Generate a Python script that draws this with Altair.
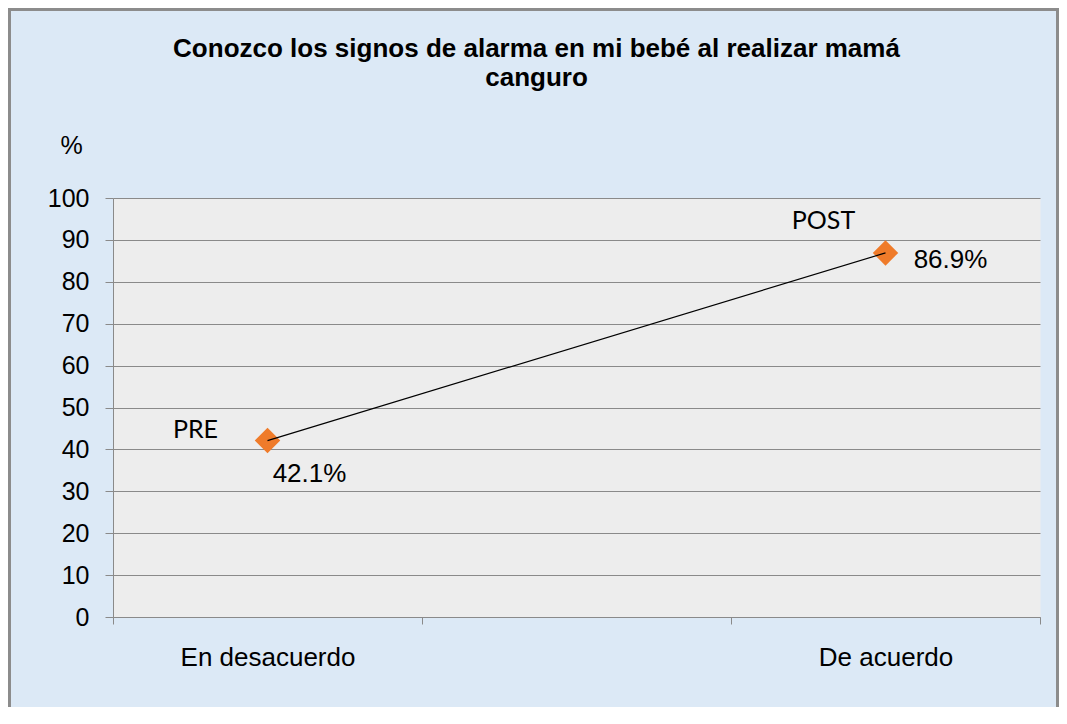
import altair as alt
import pandas as pd

categories = ["En desacuerdo", "De acuerdo"]
values = [42.1, 86.9]
phases = ["PRE", "POST"]
value_labels = ["42.1%", "86.9%"]
x_domain = ["En desacuerdo", " ", "De acuerdo"]
y_ticks = list(range(0, 101, 10))
title_lines = ["Conozco los signos de alarma en mi bebé al realizar mamá", "canguro"]

df = pd.DataFrame({"cat": categories, "val": values, "phase": phases, "lab": value_labels})

W, H = 927, 419
PAD = {"left": 105, "top": 190, "right": 19, "bottom": 90}
GRAY = "#8a8a8a"
AX_FONT = "Liberation Sans"

x = alt.X(
    "cat:N",
    scale=alt.Scale(type="band", domain=x_domain, paddingInner=0, paddingOuter=0),
    axis=alt.Axis(
        title=None, tickBand="extent", labelAngle=0, labelFont=AX_FONT,
        labelFontSize=26, labelColor="black", labelPadding=20, tickSize=7,
        tickColor=GRAY, domainColor=GRAY, grid=False,
    ),
)
y = alt.Y(
    "val:Q",
    scale=alt.Scale(domain=[0, 100]),
    axis=alt.Axis(
        values=y_ticks, title="%", titleAngle=0, titleX=-42, titleY=-53,
        titleFont=AX_FONT, titleFontSize=25, titleFontWeight="normal",
        titleAlign="center", titleBaseline="middle", titleColor="black",
        labelFont=AX_FONT, labelFontSize=25, labelColor="black", labelPadding=16,
        tickSize=8, tickColor=GRAY, domainColor=GRAY, gridColor=GRAY,
        gridOpacity=1, gridWidth=1,
    ),
)

base = alt.Chart(df).encode(x=x, y=y)

points = base.mark_point(shape="diamond", filled=True, size=650, color="#EF7B2A", opacity=1)
line = base.mark_line(color="black", strokeWidth=1.2)

pre_phase = base.transform_filter(alt.datum.phase == "PRE").mark_text(
    dx=-72, dy=-11, font="Lato", fontSize=25, color="black").encode(text="phase:N")
post_phase = base.transform_filter(alt.datum.phase == "POST").mark_text(
    dx=-62, dy=-32, font="Lato", fontSize=25, color="black").encode(text="phase:N")
pre_val = base.transform_filter(alt.datum.phase == "PRE").mark_text(
    dx=42, dy=33, font=AX_FONT, fontSize=26, color="black").encode(text="lab:N")
post_val = base.transform_filter(alt.datum.phase == "POST").mark_text(
    dx=65, dy=7, font=AX_FONT, fontSize=26, color="black").encode(text="lab:N")

frame = alt.Chart(df).mark_rect(fill="transparent", stroke="#8c8c8c", strokeWidth=3).encode(
    x=alt.value(-PAD["left"] + 1.5),
    x2=alt.value(W + PAD["right"] - 1.5),
    y=alt.value(-PAD["top"] + 1.5),
    y2=alt.value(H + PAD["bottom"] + 20),
)

chart = alt.layer(frame, points, line, pre_phase, post_phase, pre_val, post_val).properties(
    width=W, height=H,
    title=alt.TitleParams(
        text=title_lines, font=AX_FONT, fontSize=26, fontWeight="bold", color="black",
        anchor="middle", dx=-40, dy=83, offset=0, lineHeight=29,
    ),
    padding=PAD,
    autosize=alt.AutoSizeParams(type="none"),
).configure(background="#DCE9F6").configure_view(fill="#EDEDED", stroke="transparent")

chart.save("out.html", embed_options={"renderer": "svg", "actions": False})
